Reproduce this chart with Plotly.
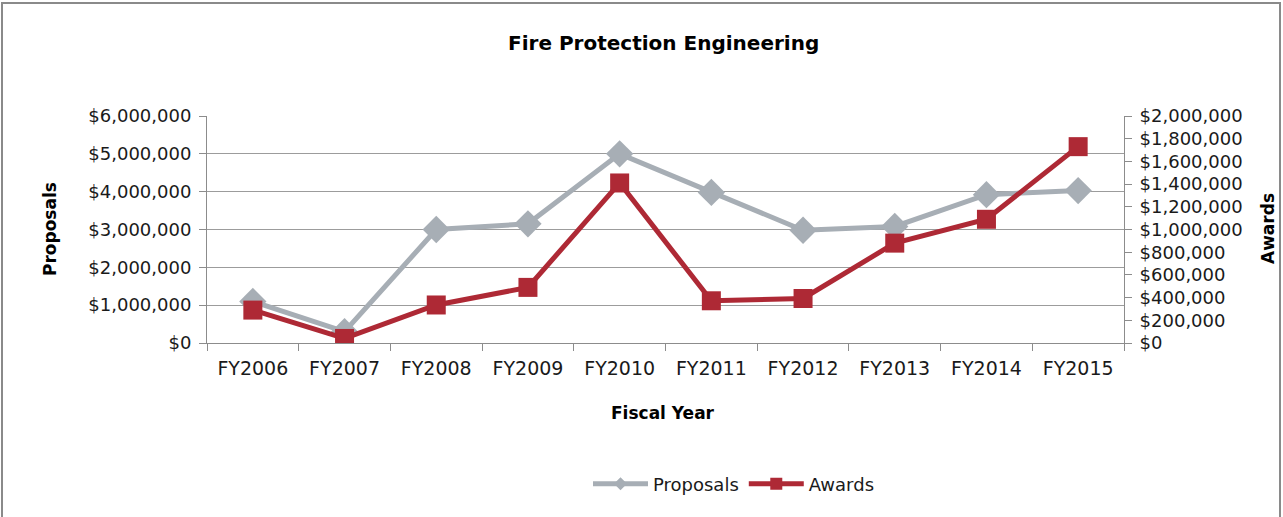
import plotly.graph_objects as go

years = ["FY2006", "FY2007", "FY2008", "FY2009", "FY2010",
         "FY2011", "FY2012", "FY2013", "FY2014", "FY2015"]
proposals = [1100000, 300000, 3000000, 3150000, 5000000,
             3980000, 2980000, 3080000, 3920000, 4030000]
awards = [290000, 40000, 335000, 490000, 1410000,
          372000, 392000, 880000, 1090000, 1730000]

GRAY = "#A7AEB5"
RED = "#AE2935"
AX = "#8C8C8C"
FONT = "DejaVu Sans, Arial, sans-serif"

fig = go.Figure()
fig.add_trace(go.Scatter(
    x=years, y=proposals, name="Proposals", mode="lines+markers",
    line=dict(color=GRAY, width=5),
    marker=dict(symbol="diamond", size=21, color=GRAY),
    yaxis="y", showlegend=False))
fig.add_trace(go.Scatter(
    x=years, y=awards, name="Awards", mode="lines+markers",
    line=dict(color=RED, width=5),
    marker=dict(symbol="square", size=19, color=RED),
    yaxis="y2", showlegend=False))
# legend entries (smaller symbols, as in the reference legend)
fig.add_trace(go.Scatter(
    x=[None], y=[None], name="Proposals", mode="lines+markers",
    line=dict(color=GRAY, width=5),
    marker=dict(symbol="diamond", size=10, color=GRAY), yaxis="y"))
fig.add_trace(go.Scatter(
    x=[None], y=[None], name="Awards", mode="lines+markers",
    line=dict(color=RED, width=5),
    marker=dict(symbol="square", size=12, color=RED), yaxis="y2"))

W, H = 1283, 517
L, R, T, B = 207, 1124, 116, 343
pw, ph = R - L, B - T

def px(x):
    return (x - L) / pw

def py(y):
    return (B - y) / ph

fig.update_layout(
    width=W, height=H,
    margin=dict(l=L, r=W - R, t=T, b=H - B, autoexpand=False),
    paper_bgcolor="white", plot_bgcolor="white",
    font=dict(family=FONT, size=18, color="#1a1a1a"),
    showlegend=True,
    legend=dict(orientation="h", x=px(734), y=py(484), xanchor="center",
                yanchor="middle", itemsizing="trace", itemwidth=55,
                font=dict(size=18, family=FONT, color="#1a1a1a"),
                bgcolor="rgba(0,0,0,0)", traceorder="normal"),
    xaxis=dict(type="category", showline=True, linecolor=AX, linewidth=1,
               ticks="outside", ticklen=7, tickcolor=AX, tickson="boundaries",
               showgrid=False, tickfont=dict(size=19), ticklabelstandoff=8,
               range=[-0.5, 9.5]),
    yaxis=dict(range=[0, 6000000], dtick=1000000, tickformat="$,.0f",
               showline=True, linecolor=AX, linewidth=1, ticks="outside",
               ticklen=7, tickcolor=AX, showgrid=True, gridcolor="#9C9C9C",
               gridwidth=1, zeroline=False, tickfont=dict(size=18),
               ticklabelstandoff=4),
    yaxis2=dict(range=[0, 2000000], dtick=200000, tickformat="$,.0f",
                overlaying="y", side="right", showline=True, linecolor=AX,
                linewidth=1, ticks="outside", ticklen=7, tickcolor=AX,
                showgrid=False, zeroline=False, tickfont=dict(size=18),
                ticklabelstandoff=4),
)

fig.add_annotation(text="<b>Fire Protection Engineering</b>", xref="paper",
                   yref="paper", x=px(663), y=py(43), showarrow=False,
                   xanchor="center", yanchor="middle",
                   font=dict(size=20, family=FONT, color="#000"))
fig.add_annotation(text="<b>Proposals</b>", xref="paper", yref="paper",
                   x=px(50), y=py(229), showarrow=False, textangle=-90,
                   xanchor="center", yanchor="middle",
                   font=dict(size=17, family=FONT, color="#000"))
fig.add_annotation(text="<b>Awards</b>", xref="paper", yref="paper",
                   x=px(1268), y=py(229), showarrow=False, textangle=-90,
                   xanchor="center", yanchor="middle",
                   font=dict(size=17, family=FONT, color="#000"))
fig.add_annotation(text="<b>Fiscal Year</b>", xref="paper", yref="paper",
                   x=px(663), y=py(413), showarrow=False,
                   xanchor="center", yanchor="middle",
                   font=dict(size=17, family=FONT, color="#000"))

fig.add_shape(type="rect", xref="paper", yref="paper",
              x0=px(2), x1=px(1280), y0=py(530), y1=py(3),
              line=dict(color="#8A8A8A", width=2), layer="below")

fig.write_html("out.html", config={"displayModeBar": False},
               post_script="document.body.style.margin='0';"
                           "document.body.style.overflow='hidden';")
